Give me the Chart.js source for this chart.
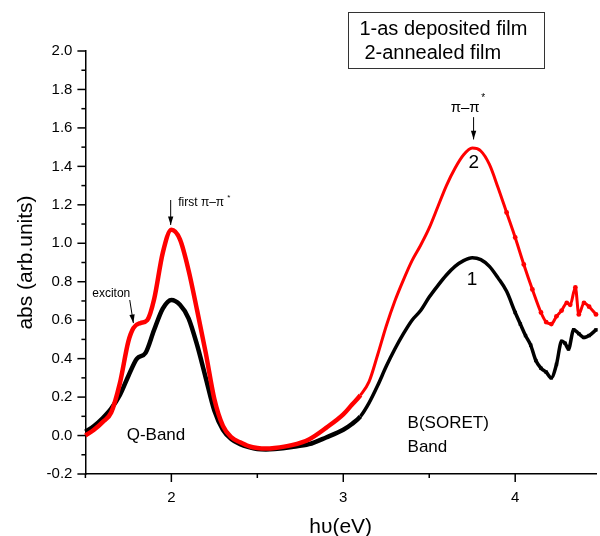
<!DOCTYPE html>
<html>
<head>
<meta charset="utf-8">
<script src="https://cdn.jsdelivr.net/npm/chart.js@4"></script>
<style>
  html, body { margin: 0; padding: 0; background: #fff; }
  #wrap { width: 600px; height: 536px; position: relative; }
</style>
</head>
<body>
<div id="wrap"><canvas id="chart" width="600" height="536"></canvas></div>
<script>
// curve 1 - as deposited film (black)
const depositedX = [1.50, 1.55, 1.60, 1.65, 1.70, 1.75, 1.80, 1.85, 1.90, 1.95, 2.00, 2.05, 2.10, 2.15, 2.20, 2.25,
  2.30, 2.35, 2.40, 2.45, 2.50, 2.55, 2.60, 2.70, 2.80, 2.90, 3.00, 3.05, 3.10, 3.15, 3.20, 3.25, 3.30, 3.35,
  3.40, 3.45, 3.50, 3.55, 3.60, 3.65, 3.70, 3.75, 3.80, 3.85, 3.90, 3.95, 4.00, 4.03, 4.06, 4.09, 4.12, 4.15,
  4.18, 4.21, 4.24, 4.27, 4.29, 4.31, 4.34, 4.37, 4.40, 4.43, 4.47];
const depositedY = [0.02, 0.05, 0.09, 0.14, 0.21, 0.31, 0.40, 0.43, 0.55, 0.66, 0.705, 0.68, 0.61, 0.47, 0.30, 0.13,
  0.03, -0.02, -0.045, -0.06, -0.07, -0.072, -0.07, -0.06, -0.045, -0.01, 0.03, 0.06, 0.10, 0.17, 0.26, 0.36, 0.45, 0.53,
  0.60, 0.65, 0.72, 0.78, 0.835, 0.88, 0.91, 0.925, 0.915, 0.88, 0.82, 0.75, 0.64, 0.58, 0.52, 0.47, 0.39, 0.35,
  0.33, 0.30, 0.37, 0.49, 0.48, 0.45, 0.55, 0.53, 0.51, 0.52, 0.55];

// curve 2 - annealed film (red)
const annealedX = [1.50, 1.55, 1.60, 1.65, 1.70, 1.75, 1.78, 1.82, 1.86, 1.90, 1.95, 2.00, 2.05, 2.10, 2.15, 2.20,
  2.25, 2.30, 2.35, 2.40, 2.45, 2.50, 2.55, 2.60, 2.70, 2.80, 2.90, 3.00, 3.05, 3.10, 3.15, 3.20, 3.25, 3.30,
  3.35, 3.40, 3.45, 3.50, 3.55, 3.60, 3.65, 3.70, 3.75, 3.80, 3.85, 3.90, 3.95, 4.00, 4.05, 4.10, 4.15, 4.18,
  4.21, 4.24, 4.27, 4.30, 4.32, 4.35, 4.37, 4.40, 4.43, 4.47];
const annealedY = [0.00, 0.03, 0.07, 0.12, 0.27, 0.49, 0.56, 0.585, 0.60, 0.71, 0.95, 1.07, 1.02, 0.86, 0.65, 0.43,
  0.19, 0.05, -0.01, -0.035, -0.055, -0.065, -0.068, -0.065, -0.05, -0.02, 0.04, 0.11, 0.16, 0.21, 0.28, 0.42, 0.57, 0.70,
  0.81, 0.91, 0.99, 1.08, 1.19, 1.30, 1.39, 1.46, 1.495, 1.48, 1.41, 1.29, 1.16, 1.03, 0.89, 0.76, 0.64, 0.59,
  0.58, 0.62, 0.65, 0.69, 0.68, 0.77, 0.63, 0.69, 0.67, 0.63];

const yTickValues = [-0.2, -0.1, 0.0, 0.1, 0.2, 0.3, 0.4, 0.5, 0.6, 0.7, 0.8, 0.9, 1.0, 1.1, 1.2, 1.3, 1.4, 1.5, 1.6, 1.7, 1.8, 1.9, 2.0];
const xTickValues = [1.5, 2, 2.5, 3, 3.5, 4];
const xLabelValues = [2, 3, 4];

const FONT = '"Liberation Sans", Arial, Helvetica, sans-serif';

function toPoints(xs, ys) {
  return xs.map((x, i) => ({ x, y: ys[i] }));
}

// tick marks, text labels, arrows and the legend box
const decorations = {
  id: 'decorations',
  afterDraw(chart) {
    const { ctx, scales: { x, y } } = chart;
    const px = v => x.getPixelForValue(v);
    const py = v => y.getPixelForValue(v);
    ctx.save();
    ctx.strokeStyle = '#000';
    ctx.fillStyle = '#000';
    ctx.lineWidth = 1.5;

    const left = x.left;
    yTickValues.forEach((v, i) => {
      const len = i % 2 === 0 ? 8 : 4;
      ctx.beginPath();
      ctx.moveTo(left, py(v));
      ctx.lineTo(left - len, py(v));
      ctx.stroke();
    });
    const bottom = y.bottom;
    xTickValues.forEach(v => {
      const len = Number.isInteger(v) ? 8 : 4;
      ctx.beginPath();
      ctx.moveTo(px(v), bottom);
      ctx.lineTo(px(v), bottom + len);
      ctx.stroke();
    });

    const arrow = (x1, y1, x2, y2) => {
      const ax = px(x1), ay = py(y1), bx = px(x2), by = py(y2);
      ctx.lineWidth = 1;
      ctx.beginPath();
      ctx.moveTo(ax, ay);
      ctx.lineTo(bx, by);
      ctx.stroke();
      const ang = Math.atan2(by - ay, bx - ax);
      ctx.beginPath();
      ctx.moveTo(bx, by);
      ctx.lineTo(bx - 9 * Math.cos(ang - 0.3), by - 9 * Math.sin(ang - 0.3));
      ctx.lineTo(bx - 9 * Math.cos(ang + 0.3), by - 9 * Math.sin(ang + 0.3));
      ctx.closePath();
      ctx.fill();
    };

    const text = (str, xv, yv, size, align) => {
      ctx.font = size + 'px ' + FONT;
      ctx.textAlign = align || 'left';
      ctx.textBaseline = 'middle';
      ctx.fillText(str, px(xv), py(yv));
    };

    // Q band
    text('exciton', 1.54, 0.736, 12);
    arrow(1.758, 0.705, 1.779, 0.585);
    text('first \u03c0\u2013\u03c0', 2.04, 1.209, 12);
    ctx.font = '8px ' + FONT;
    ctx.fillText('*', px(2.04) + 49, py(1.209) - 5);
    arrow(1.996, 1.225, 1.996, 1.095);
    text('Q-Band', 1.74, 0.003, 17);

    // B band
    text('\u03c0\u2013\u03c0', 3.709, 1.703, 15, 'center');
    ctx.font = '10px ' + FONT;
    ctx.textAlign = 'left';
    ctx.fillText('*', px(3.709) + 16, py(1.703) - 10);
    arrow(3.758, 1.656, 3.758, 1.54);
    text('B(SORET)', 3.374, 0.065, 17);
    text('Band', 3.374, -0.06, 17);
    text('2', 3.759, 1.417, 19, 'center');
    text('1', 3.749, 0.809, 19, 'center');

    // legend box
    ctx.lineWidth = 1;
    ctx.strokeStyle = '#333';
    const bx1 = px(3.03), by1 = py(2.202), bx2 = px(4.168), by2 = py(1.911);
    ctx.strokeRect(Math.round(bx1) + 0.5, Math.round(by1) + 0.5, Math.round(bx2 - bx1), Math.round(by2 - by1));
    ctx.font = '20px ' + FONT;
    ctx.textAlign = 'left';
    ctx.textBaseline = 'middle';
    ctx.fillText('1-as deposited film', bx1 + 11, by1 + 17);
    ctx.fillText('2-annealed film', bx1 + 16, by1 + 41);
    ctx.restore();
  }
};

new Chart(document.getElementById('chart'), {
  type: 'line',
  data: {
    datasets: [
      {
        label: '2-annealed film',
        data: toPoints(annealedX, annealedY),
        borderColor: '#ff0000',
        backgroundColor: '#ff0000',
        borderWidth: 4,
        cubicInterpolationMode: 'monotone',
        pointRadius: c => (c.raw && c.raw.x > 3.9 ? 2.4 : 0),
        pointBorderWidth: 0,
        pointStyle: 'circle',
        segment: { borderWidth: c => (c.p0.parsed.x >= 3.1 ? 3 : 4.5) }
      },
      {
        label: '1-as deposited film',
        data: toPoints(depositedX, depositedY),
        borderColor: '#000000',
        backgroundColor: '#000000',
        borderWidth: 4,
        cubicInterpolationMode: 'monotone',
        pointRadius: c => (c.raw && c.raw.x > 3.95 ? 2.4 : 0),
        pointBorderWidth: 0,
        pointStyle: 'rect',
        segment: { borderWidth: c => (c.p0.parsed.x >= 3.1 ? 3.5 : 4.5) }
      }
    ]
  },
  options: {
    responsive: false,
    animation: false,
    clip: false,
    layout: { padding: { top: 51, right: 0, left: 10, bottom: 0 } },
    plugins: { legend: { display: false }, tooltip: { enabled: false } },
    scales: {
      x: {
        type: 'linear',
        min: 1.5,
        max: 4.47,
        afterFit: s => { s.height = 62; },
        afterBuildTicks: s => { s.ticks = xLabelValues.map(v => ({ value: v })); },
        grid: { display: false },
        border: { display: true, color: '#000', width: 1.5 },
        ticks: { color: '#000', font: { family: FONT, size: 15 }, padding: 7, maxRotation: 0 },
        title: { display: true, text: 'h\u03c5(eV)', color: '#000', font: { family: FONT, size: 21 }, padding: { top: 0, bottom: -4 } }
      },
      y: {
        type: 'linear',
        min: -0.2,
        max: 2.0,
        afterFit: s => { s.width = 75.4; },
        afterBuildTicks: s => { s.ticks = yTickValues.filter((v, i) => i % 2 === 0).map(v => ({ value: v })); },
        grid: { display: false },
        border: { display: true, color: '#000', width: 1.5 },
        ticks: { color: '#000', font: { family: FONT, size: 15 }, padding: 5, callback: v => v.toFixed(1) },
        title: { display: true, text: 'abs (arb.units)', color: '#000', font: { family: FONT, size: 21 }, padding: { bottom: 10 } }
      }
    }
  },
  plugins: [decorations]
});
</script>
</body>
</html>
